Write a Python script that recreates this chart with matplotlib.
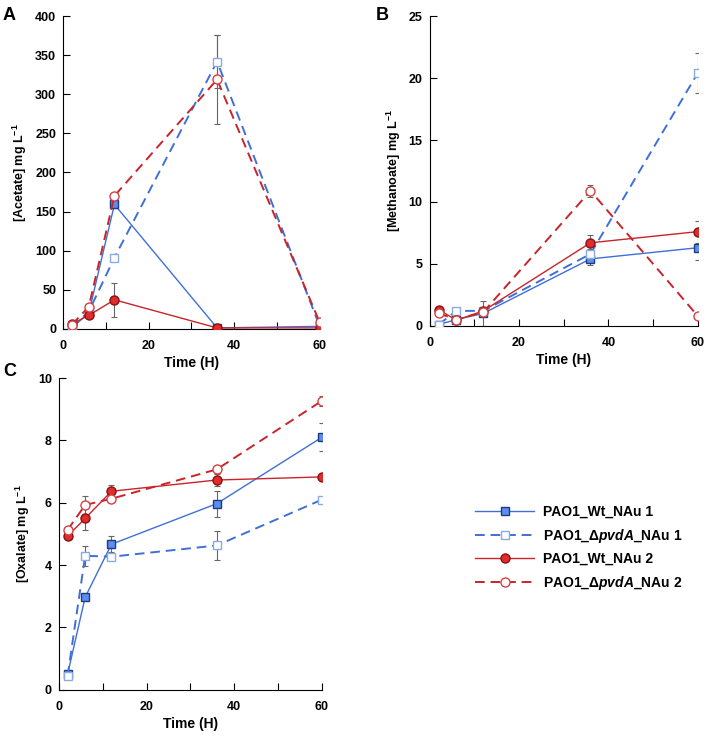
import matplotlib
matplotlib.use("Agg")
import matplotlib.pyplot as plt

plt.rcParams['font.family'] = ['Liberation Sans', 'DejaVu Sans']
plt.rcParams['font.weight'] = 'bold'
plt.rcParams['mathtext.fontset'] = 'custom'
plt.rcParams['mathtext.rm'] = 'Liberation Sans:bold'
plt.rcParams['mathtext.it'] = 'Liberation Sans:italic:bold'
plt.rcParams['mathtext.bf'] = 'Liberation Sans:bold'

# sampling times (h)
time = [2, 6, 12, 36, 60]

labels = ['PAO1_Wt_NAu 1', r'PAO1_$\Delta$$pvdA$_NAu 1',
          'PAO1_Wt_NAu 2', r'PAO1_$\Delta$$pvdA$_NAu 2']

# acetate, mg/L
acetate = [[1, 20, 159, 1, 3],
           [2, 22, 91, 342, 3],
           [6, 17, 37, 1, 1],
           [5, 28, 170, 319, 8]]
acetate_err = [[0, 3, 4, 0, 1],
               [0, 3, 4, 34, 1],
               [1, 3, 22, 0, 0],
               [1, 3, 3, 57, 1]]

# methanoate, mg/L
methanoate = [[0.1, 0.5, 1.0, 5.4, 6.3],
              [0.1, 1.2, 1.2, 5.8, 20.4],
              [1.3, 0.45, 1.2, 6.7, 7.6],
              [1.0, 0.5, 1.1, 10.9, 0.8]]
methanoate_err = [[0.05, 0.1, 1.0, 0.5, 1.0],
                  [0.05, 0.1, 0.3, 0.4, 1.6],
                  [0.1, 0.1, 0.3, 0.6, 0.9],
                  [0.1, 0.1, 0.3, 0.5, 0.1]]

# oxalate, mg/L
oxalate = [[0.5, 2.97, 4.67, 5.97, 8.1],
           [0.45, 4.3, 4.27, 4.63, 6.1],
           [4.93, 5.5, 6.37, 6.73, 6.83],
           [5.13, 5.93, 6.13, 7.07, 9.27]]
oxalate_err = [[0.1, 0.05, 0.25, 0.42, 0.45],
               [0.1, 0.32, 0.12, 0.47, 0.1],
               [0.05, 0.38, 0.2, 0.2, 0.05],
               [0.05, 0.3, 0.1, 0.1, 0.15]]

styles = [dict(color='#3f6fd8', ls='-', lw=1.0, marker='s', mfc='#5b8ef0', mec='#1f3b80', ms=6),
          dict(color='#3f6fd8', ls=(0, (5, 3)), lw=1.4, marker='s', mfc='white', mec='#8aaae6', ms=6),
          dict(color='#c8242a', ls='-', lw=1.0, marker='o', mfc='#e02c2c', mec='#8a1010', ms=6.5),
          dict(color='#c8242a', ls=(0, (5, 3)), lw=1.4, marker='o', mfc='white', mec='#d44040', ms=6.5)]

fig = plt.figure(figsize=(7.09, 7.37), dpi=100)
axA = fig.add_axes([0.089, 0.554, 0.362, 0.424])
axB = fig.add_axes([0.606, 0.558, 0.378, 0.420])
axC = fig.add_axes([0.083, 0.064, 0.371, 0.423])


def panel(ax, data, err, ymax, ystep, ylabel):
    handles = []
    for d, e, st in zip(data, err, styles):
        ax.errorbar(time, d, yerr=e, fmt='none', ecolor='#666666', elinewidth=0.8,
                    capsize=2, capthick=0.8, zorder=2)
        h, = ax.plot(time, d, zorder=3, **st)
        handles.append(h)
    ax.set_xlim(0, 60)
    ax.set_ylim(0, ymax)
    ax.set_xticks(range(0, 61, 10))
    ax.set_xticklabels(['0', '', '20', '', '40', '', '60'])
    ax.set_yticks([ystep * i for i in range(int(round(ymax / ystep)) + 1)])
    ax.tick_params(axis='x', direction='in', length=5, labelsize=9, pad=8)
    ax.tick_params(axis='y', direction='in', length=5, labelsize=9, pad=5)
    for s in ['top', 'right']:
        ax.spines[s].set_visible(False)
    ax.set_xlabel('Time (H)', fontsize=10, fontweight='bold', labelpad=3)
    ax.set_ylabel(ylabel, fontsize=9, fontweight='bold')
    return handles


panel(axA, acetate, acetate_err, 400, 50, r'[Acetate] mg L$^{-1}$')
panel(axB, methanoate, methanoate_err, 25, 5, r'[Methanoate] mg L$^{-1}$')
hs = panel(axC, oxalate, oxalate_err, 10, 2, r'[Oxalate] mg L$^{-1}$')

fig.text(0.004, 0.990, 'A', fontsize=13, fontweight='bold', va='top')
fig.text(0.530, 0.990, 'B', fontsize=13, fontweight='bold', va='top')
fig.text(0.004, 0.507, 'C', fontsize=13, fontweight='bold', va='top')

fig.legend(hs, labels, loc='center left', bbox_to_anchor=(0.652, 0.256), frameon=False,
           fontsize=10, handlelength=4.3, labelspacing=0.55, handletextpad=0.6)

fig.savefig('out.png', dpi=100)
